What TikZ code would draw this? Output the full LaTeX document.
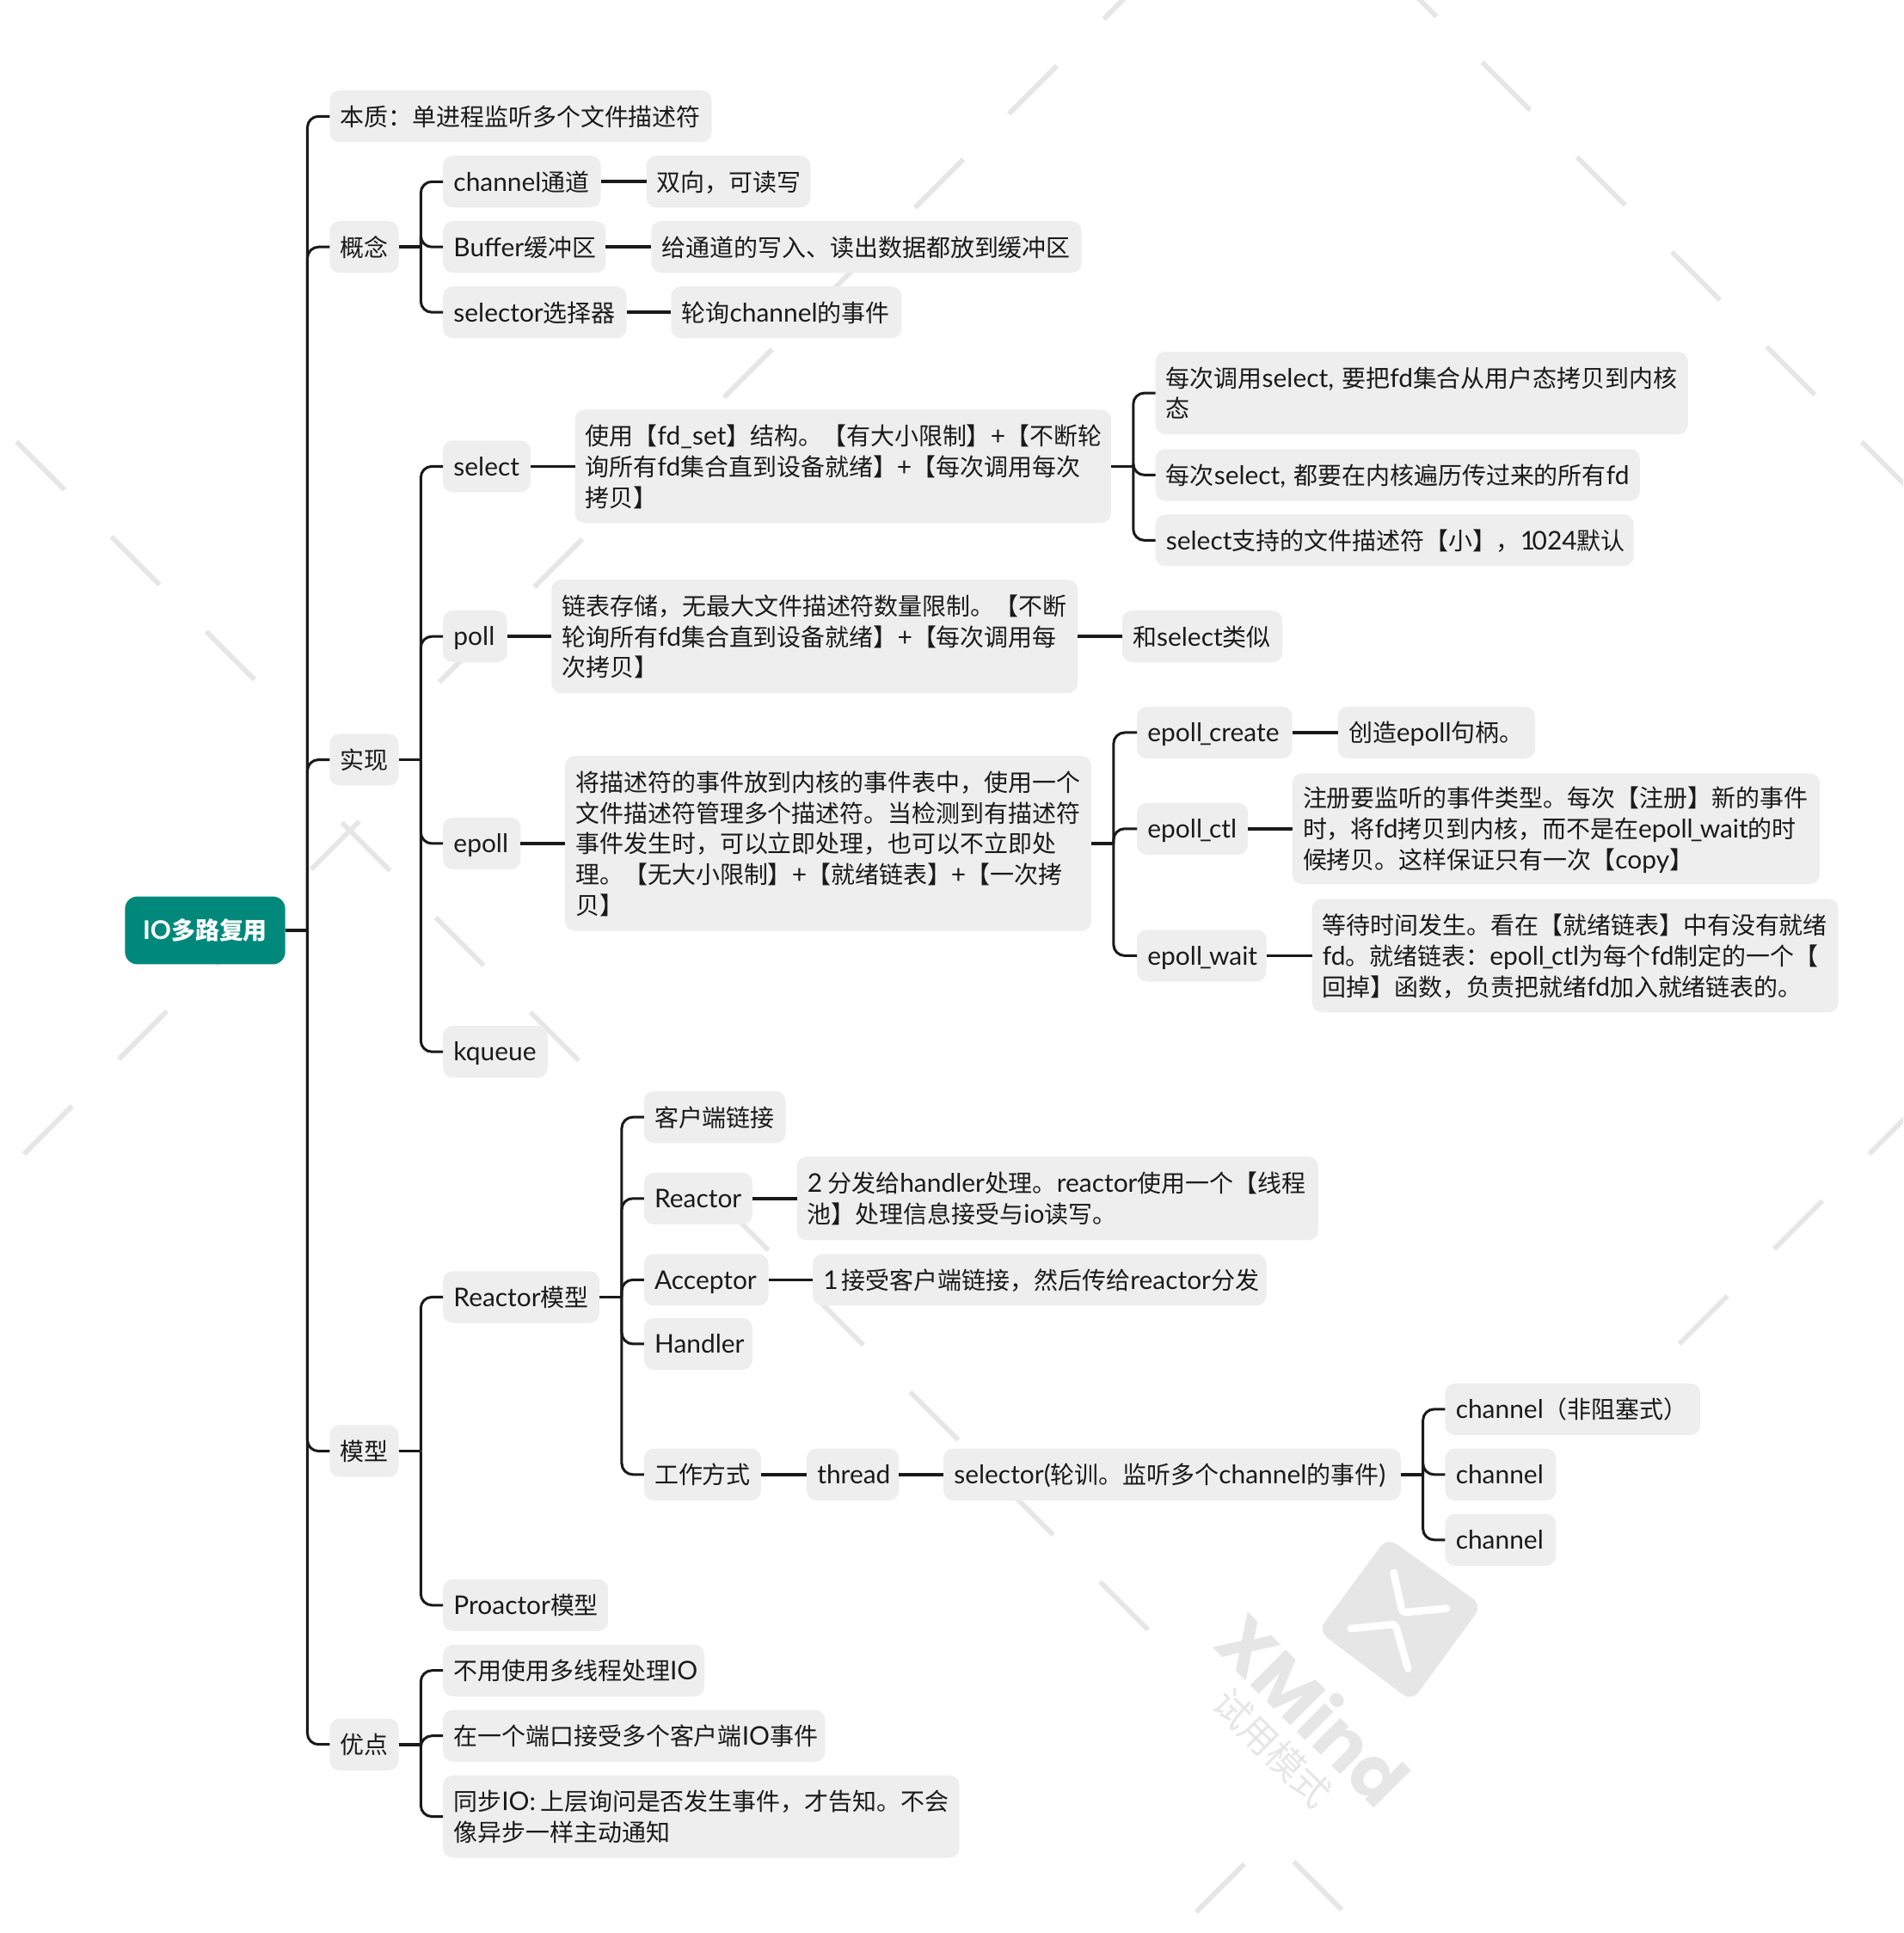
\documentclass[tikz,border=0pt]{standalone}
\usepackage{fontspec}
\setmainfont{Noto Sans CJK SC}
\newfontfamily\latfont[Scale=1.07]{Lato}
\newfontfamily\wmfont{Poppins}
\newcommand{\E}[1]{{\latfont #1}}
\newcommand{\us}{\kern-2pt\_\kern-2pt}
\newcommand{\mystrut}{\rule[-3.4pt]{0pt}{22pt}}
\newcommand{\wsp}{\hspace*{3pt}}
\definecolor{topicfill}{HTML}{EEEEEE}
\definecolor{rootfill}{HTML}{00897B}
\definecolor{wm}{HTML}{E6E6E6}
\definecolor{ink}{HTML}{1A1A1A}
\tikzset{
  basebox/.style={rounded corners=8pt,inner sep=0pt,outer sep=0pt,align=flush left,
    execute at begin node=\mystrut,execute at end node=\mystrut},
  topicbox/.style={basebox,fill=topicfill,text=ink,font=\fontsize{19.5}{25}\selectfont},
  rootbox/.style={basebox,fill=rootfill,text=white,rounded corners=10pt,font=\fontsize{19.5}{25}\selectfont\bfseries},
  conn/.style={draw=ink,line width=2.1pt},
  stub/.style={draw=ink,line width=2.6pt},
  wmline/.style={draw=wm,line width=4pt},
}
\newcommand{\boxat}[7]{% style name x1 y1 x2 y2 text
  \pgfmathsetmacro{\boxw}{#5-#3}\pgfmathsetmacro{\boxh}{#6-#4}\pgfmathsetmacro{\boxt}{#5-#3-17.2}
  \node[#1,minimum width=\boxw pt,minimum height=\boxh pt,text width=\boxt pt] (#2) at ({(#3+#5)/2},{(#4+#6)/2}) {#7};}
\newcommand{\topic}[6]{\boxat{topicbox}{#1}{#2}{#3}{#4}{#5}{#6}}
\newcommand{\branch}[2]{%
  \draw[stub] (#1.east) -- ++(18,0);
  \draw[conn,rounded corners=9pt] ([xshift=18pt]#1.east) |- (#2.west);}
\newcommand{\link}[2]{\draw[stub] (#1.east) -- (#2.west);}
\begin{document}
\begin{tikzpicture}[x=1pt,y=-1pt]
\useasboundingbox (-0.4,-0.4) rectangle (1543.6,1568);
% watermark
\begin{scope}
\clip (-0.4,-0.4) rectangle (1543.6,1568);
\foreach \xa/\ya/\xb/\yb in {
 895/15/912/-2, 818/92/857/53, 742/168/781/129, 665/245/704/206, 587/322/626/283, 510/399/549/360, 433/476/472/437, 356/553/395/514,
 252/705/291/666, 175/782/214/743, 96/859/135/820, 19/936/58/897,
 1150/-2/1165/13, 1202/50/1241/89, 1279/127/1318/166, 1356/204/1395/243, 1433/281/1472/320, 1510/358/1549/397,
 13/358/52/397, 90/435/129/474, 167/512/206/551,
 277/667/316/706, 353/744/392/783, 430/821/469/860, 584/975/623/1014, 661/1052/700/1091, 738/1129/777/1168, 815/1206/854/1245, 892/1283/931/1322,
 1516/936/1555/897, 1439/1013/1478/974, 1362/1090/1401/1051,
 970/1551/1009/1512, 1049/1510/1088/1549}
 {\draw[wmline] (\xa,\ya) -- (\xb,\yb);}
\fill[wm,rounded corners=9pt] (1125,1247) -- (1202,1302) -- (1145,1380) -- (1069,1323) -- cycle;
\draw[white,line width=6pt,line cap=round,line join=round,rounded corners=3pt] (1130.3,1275.6) -- (1137.3,1308) -- (1173.3,1304.6);
\draw[white,line width=6pt,line cap=round,line join=round,rounded corners=3pt] (1095.4,1321) -- (1131.5,1317.4) -- (1141.9,1353.5);
\node[rotate=-45,text=wm,inner sep=0pt,font=\fontsize{58}{58}\selectfont\wmfont\bfseries] (wmx) at (1066,1386) {XMind};
\node[rotate=-45,text=wm,inner sep=0pt,font=\fontsize{30}{30}\selectfont] (wmt) at (1032,1418) {试用模式};
\end{scope}
% nodes
\boxat{rootbox}{root}{101}{727}{231}{782}{\hfill\E{IO}多路复用\hfill\null}
\topic{ess}{267}{73}{577}{115}{本质：单进程监听多个文件描述符}
\topic{gn}{267}{179}{323}{221}{概念}
\topic{gn1}{359}{126}{487}{168}{\E{channel}通道}
\topic{gn1a}{524}{126}{657}{168}{双向，可读写}
\topic{gn2}{359}{179}{491}{221}{\E{Buffer}缓冲区}
\topic{gn2a}{528}{179}{877}{221}{给通道的写入、读出数据都放到缓冲区}
\topic{gn3}{359}{232}{508}{274}{\E{selector}选择器}
\topic{gn3a}{544}{232}{731}{274}{轮询\E{channel}的事件}
\topic{sx}{267}{595}{323}{637}{实现}
\topic{sel}{359}{357}{430}{399}{\E{select}}
\topic{sela}{466}{332}{901}{424}{使用【\E{fd\_set}】结构。【有大小限制】\E{+}【不断轮\\询所有\E{fd}集合直到设备就绪】\E{+}【每次调用每次\\拷贝】}
\topic{selx}{937}{285}{1369}{352}{每次调用\E{select,}\wsp{}~要把\E{fd}集合从用户态拷贝到内核\\态}
\topic{sely}{937}{364}{1330}{406}{每次\E{select,}\wsp{}~都要在内核遍历传过来的所有\E{fd}}
\topic{selz}{937}{417}{1325}{459}{\E{select}支持的文件描述符【小】，\E{1\kern-2.5pt 024}默认}
\topic{pol}{359}{495}{411}{537}{\E{poll}}
\topic{pola}{447}{470}{874}{562}{链表存储，无最大文件描述符数量限制。【不断\\轮询所有\E{fd}集合直到设备就绪】\E{+}【每次调用每\\次拷贝】}
\topic{polb}{910}{495}{1040}{537}{和\E{select}类似}
\topic{epo}{359}{663}{422}{705}{\E{epoll}}
\topic{epoa}{458}{613}{885}{755}{将描述符的事件放到内核的事件表中，使用一个\\文件描述符管理多个描述符。当检测到有描述符\\事件发生时，可以立即处理，也可以不立即处\\理。【无大小限制】\E{+}【就绪链表】\E{+}【一次拷\\贝】}
\topic{epc}{922}{573}{1048}{615}{\E{epoll\us create}}
\topic{epca}{1085}{573}{1245}{615}{创造\E{epoll}句柄。}
\topic{ept}{922}{651}{1012}{693}{\E{epoll\us ctl}}
\topic{epta}{1048}{627}{1476}{717}{注册要监听的事件类型。每次【注册】新的事件\\时，将\E{fd}拷贝到内核，而不是在\E{epoll\us wait}的时\\候拷贝。这样保证只有一次【\E{copy}】}
\topic{epw}{922}{754}{1027}{796}{\E{epoll\us wait}}
\topic{epwa}{1064}{729}{1491}{821}{等待时间发生。看在【就绪链表】中有没有就绪\\\E{fd}。就绪链表：\E{epoll\us ctl}为每个\E{fd}制定的一个【\\回掉】函数，负责把就绪\E{fd}加入就绪链表的。}
\topic{kq}{359}{832}{444}{874}{\E{kqueue}}
\topic{mx}{267}{1156}{323}{1198}{模型}
\topic{rm}{359}{1031}{486}{1073}{\E{Reactor}模型}
\topic{cl}{522}{885}{637}{927}{客户端链接}
\topic{re}{522}{951}{610}{993}{\E{Reactor}}
\topic{rea}{646}{938}{1069}{1006}{\E{2}~分发给\E{handler}处理。\E{reactor}使用一个【线程\\池】处理信息接受与\E{io}读写。}
\topic{ac}{522}{1017}{623}{1059}{\E{Acceptor}}
\topic{aca}{659}{1017}{1027}{1059}{\E{1}~接受客户端链接，然后传给\E{reactor}分发}
\topic{ha}{522}{1069}{610}{1111}{\E{Handler}}
\topic{wk}{522}{1175}{617}{1217}{工作方式}
\topic{th}{654}{1175}{729}{1217}{\E{thread}}
\topic{sl}{765}{1175}{1136}{1217}{\E{selector(}轮训。监听多个\E{channel}的事件\E{)}}
\topic{ch1}{1172}{1122}{1379}{1164}{\E{channel}（非阻塞式）}
\topic{ch2}{1172}{1175}{1262}{1217}{\E{channel}}
\topic{ch3}{1172}{1228}{1262}{1270}{\E{channel}}
\topic{pm}{359}{1281}{493}{1323}{\E{Proactor}模型}
\topic{yd}{267}{1394}{323}{1436}{优点}
\topic{yd1}{359}{1334}{571}{1376}{不用使用多线程处理\E{IO}}
\topic{yd2}{359}{1387}{669}{1429}{在一个端口接受多个客户端\E{IO}事件}
\topic{yd3}{359}{1440}{778}{1507}{同步\E{IO:}~上层询问是否发生事件，才告知。不会\\像异步一样主动通知}
% connectors
\foreach \c in {ess,gn,sx,mx,yd}{\branch{root}{\c}}
\foreach \c in {gn1,gn2,gn3}{\branch{gn}{\c}}
\link{gn1}{gn1a}\link{gn2}{gn2a}\link{gn3}{gn3a}
\foreach \c in {sel,pol,epo,kq}{\branch{sx}{\c}}
\link{sel}{sela}
\foreach \c in {selx,sely,selz}{\branch{sela}{\c}}
\link{pol}{pola}\link{pola}{polb}
\link{epo}{epoa}
\foreach \c in {epc,ept,epw}{\branch{epoa}{\c}}
\link{epc}{epca}\link{ept}{epta}\link{epw}{epwa}
\foreach \c in {rm,pm}{\branch{mx}{\c}}
\foreach \c in {cl,re,ac,ha,wk}{\branch{rm}{\c}}
\link{re}{rea}\link{ac}{aca}\link{wk}{th}\link{th}{sl}
\foreach \c in {ch1,ch2,ch3}{\branch{sl}{\c}}
\foreach \c in {yd1,yd2,yd3}{\branch{yd}{\c}}
\end{tikzpicture}
\end{document}
